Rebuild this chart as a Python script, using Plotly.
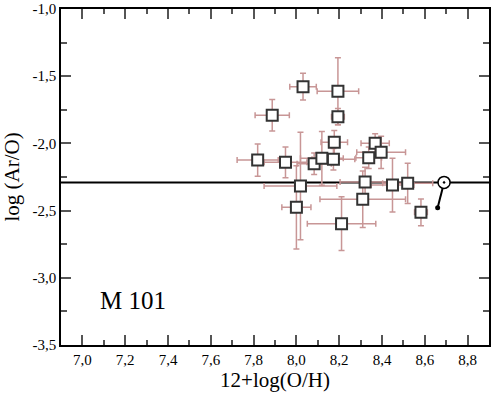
import plotly.graph_objects as go

# HII regions in M 101: 12+log(O/H) vs log(Ar/O)
oh = [8.031, 8.194, 8.194, 7.887, 8.177, 8.368, 8.396, 8.338, 7.819, 7.949, 8.083,
      8.119, 8.173, 8.019, 8.321, 8.449, 8.520, 8.000, 8.310, 8.211, 8.582]
aro = [-1.578, -1.612, -1.801, -1.791, -1.992, -1.999, -2.066, -2.106, -2.124, -2.141, -2.151,
       -2.111, -2.118, -2.317, -2.287, -2.310, -2.297, -2.476, -2.416, -2.597, -2.513]
oh_err = [0.062, 0.097, 0.03, 0.08, 0.062, 0.066, 0.114, 0.06, 0.096, 0.10, 0.08,
          0.10, 0.10, 0.17, 0.117, 0.10, 0.117, 0.068, 0.20, 0.16, 0.03]
aro_err = [0.10, 0.25, 0.06, 0.117, 0.088, 0.07, 0.12, 0.08, 0.12, 0.115, 0.08,
           0.20, 0.08, 0.40, 0.11, 0.20, 0.15, 0.31, 0.21, 0.20, 0.10]

# solar value and its connector
sun_oh = [8.69, 8.66]
sun_aro = [-2.29, -2.478]
solar_aro = -2.29

xticks = [7.0, 7.2, 7.4, 7.6, 7.8, 8.0, 8.2, 8.4, 8.6, 8.8]
xlabels = ["7,0", "7,2", "7,4", "7,6", "7,8", "8,0", "8,2", "8,4", "8,6", "8,8"]
yticks = [-1.0, -1.5, -2.0, -2.5, -3.0, -3.5]
ylabels = ["-1,0", "-1,5", "-2,0", "-2,5", "-3,0", "-3,5"]

err_col = "rgb(200,150,150)"
font = "Liberation Serif"

fig = go.Figure()
fig.add_trace(go.Scatter(
    x=oh, y=aro, mode="markers",
    marker=dict(symbol="square", size=11, color="white",
                line=dict(color="#333333", width=2)),
    error_x=dict(type="data", array=oh_err, color=err_col, thickness=1.5, width=3),
    error_y=dict(type="data", array=aro_err, color=err_col, thickness=1.5, width=3),
))
fig.add_trace(go.Scatter(
    x=sun_oh, y=sun_aro, mode="lines",
    line=dict(color="black", width=2),
))
fig.add_trace(go.Scatter(
    x=sun_oh[1:], y=sun_aro[1:], mode="markers",
    marker=dict(symbol="circle", size=5, color="black"),
))
fig.add_trace(go.Scatter(
    x=sun_oh[:1], y=sun_aro[:1], mode="markers",
    marker=dict(symbol="circle-dot", size=12, color="white",
                line=dict(color="black", width=1.5)),
))

fig.add_shape(type="line", xref="paper", x0=0, x1=1, y0=solar_aro, y1=solar_aro,
              line=dict(color="black", width=2), layer="below")

fig.add_annotation(x=7.235, y=-3.17, text="M 101", showarrow=False,
                   font=dict(family=font, size=25, color="black"))

fig.update_layout(
    width=492, height=394,
    margin=dict(l=61, r=3, t=9, b=49),
    plot_bgcolor="white", paper_bgcolor="white",
    showlegend=False,
    font=dict(family=font, color="black"),
)
fig.update_xaxes(
    range=[6.9, 8.9], tickvals=xticks, ticktext=xlabels, automargin=False,
    ticks="inside", ticklen=10, tickwidth=1.5, tickcolor="#555555",
    minor=dict(ticks="inside", ticklen=5, dtick=0.1, tick0=6.9, tickcolor="#555555", tickwidth=1.5),
    showline=True, linecolor="black", linewidth=1.5, mirror="ticks",
    showgrid=False, zeroline=False, ticklabeloverflow="allow",
    tickfont=dict(family=font, size=15, color="black"),
    title=dict(text="12+log(O/H)", font=dict(family=font, size=21, color="black"), standoff=3),
)
fig.update_yaxes(
    range=[-3.5, -1.0], tickvals=yticks, ticktext=ylabels, automargin=False,
    ticks="inside", ticklen=10, tickwidth=1.5, tickcolor="#555555",
    minor=dict(ticks="inside", ticklen=6, dtick=0.25, tick0=-1.0, tickcolor="#555555", tickwidth=1.5),
    showline=True, linecolor="black", linewidth=1.5, mirror="ticks",
    showgrid=False, zeroline=False, ticklabeloverflow="allow",
    tickfont=dict(family=font, size=15, color="black"),
    title=dict(text="log (Ar/O)", font=dict(family=font, size=21, color="black"), standoff=8),
)

# drop the page's default body margin so the figure sits at the window origin
fig.write_html("out.html", config={"displayModeBar": False},
               post_script="document.body.style.margin='0';")
